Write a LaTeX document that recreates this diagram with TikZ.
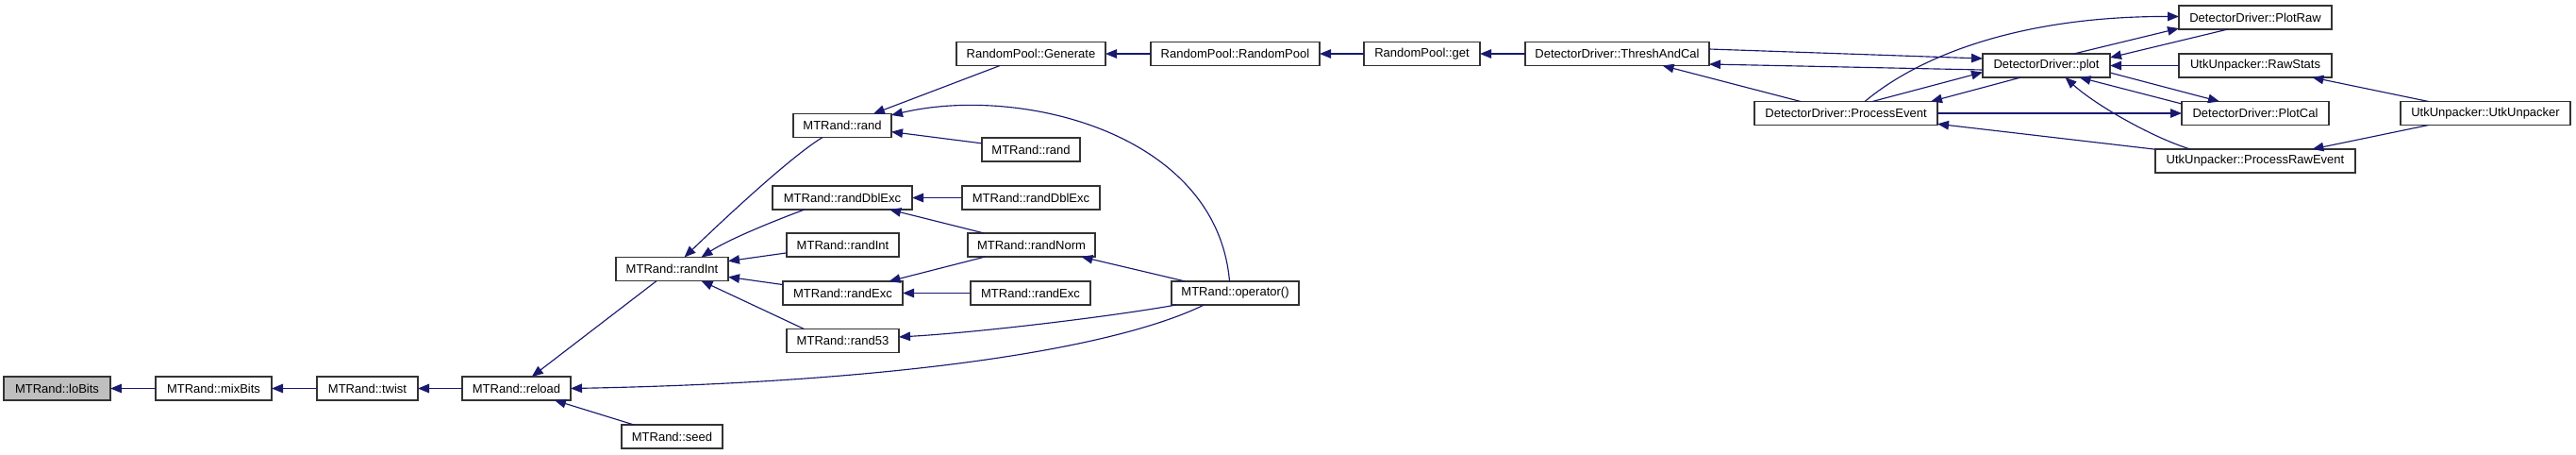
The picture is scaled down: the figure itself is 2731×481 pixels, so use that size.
\documentclass[tikz,border=0pt]{standalone}
\usepackage{fontspec}
\setmainfont{Liberation Sans}
\usetikzlibrary{arrows.meta,calc}
\definecolor{cgblue}{HTML}{191970}
\definecolor{cggray}{HTML}{BFBFBF}
\tikzset{
  cgnode/.style={draw=black!80,line width=0.8pt,fill=white,minimum height=0.5cm,inner sep=0pt,outer sep=0pt,font=\fontsize{7.4}{8.5}\selectfont},
  cgedge/.style={draw=cgblue,line width=0.65pt,-{Triangle[length=0.24cm,width=0.19cm]}}
}
\newcommand{\CGn}[6][]{\node[cgnode,#1,minimum width={(#4-#3)*0.02cm}] (#2) at ({(#3+#4)/2},#5) {#6};}
\newcommand{\CGe}[2]{\draw[cgedge] (#1) -- (#2);}

\begin{document}
\begin{tikzpicture}[x=0.02cm,y=-0.02cm]
  \useasboundingbox (0,0) rectangle (2731,481);
  \CGn[fill=cggray]{loBits}{4}{117}{411.5}{MTRand::loBits}
  \CGn{mixBits}{165}{288}{411.5}{MTRand::mixBits}
  \CGn{twist}{336}{443}{411.5}{MTRand::twist}
  \CGn{reload}{490}{605}{411.5}{MTRand::reload}
  \CGn{seed}{659}{766}{462.5}{MTRand::seed}
  \CGn{randInt}{653}{772}{285}{MTRand::randInt}
  \CGn{rand}{841}{945}{133}{MTRand::rand}
  \CGn{randDblExc}{819}{967}{209.5}{MTRand::randDblExc}
  \CGn{randIntB}{834}{953}{259.5}{MTRand::randInt}
  \CGn{randExc}{830}{957}{310.5}{MTRand::randExc}
  \CGn{rand53}{834}{953}{361}{MTRand::rand53}
  \CGn{randB}{1041}{1145}{158.5}{MTRand::rand}
  \CGn{randDblExcB}{1020}{1166}{209.5}{MTRand::randDblExc}
  \CGn{randNorm}{1026}{1161}{259.5}{MTRand::randNorm}
  \CGn{randExcB}{1029}{1156}{310.5}{MTRand::randExc}
  \CGn{operator}{1242}{1377}{310.5}{MTRand::operator()}
  \CGn{Generate}{1014}{1172}{57}{RandomPool::Generate}
  \CGn{RandomPool}{1220}{1399}{57}{RandomPool::RandomPool}
  \CGn{get}{1446}{1569}{57}{RandomPool::get}
  \CGn{ThreshAndCal}{1617}{1812}{57}{DetectorDriver::ThreshAndCal}
  \CGn{ProcessEvent}{1860}{2054}{120}{DetectorDriver::ProcessEvent}
  \CGn{plot}{2102}{2237}{69.5}{DetectorDriver::plot}
  \CGn{PlotRaw}{2310}{2472}{18.5}{DetectorDriver::PlotRaw}
  \CGn{RawStats}{2310}{2472}{69.5}{UtkUnpacker::RawStats}
  \CGn{PlotCal}{2313}{2469}{120}{DetectorDriver::PlotCal}
  \CGn{ProcessRawEvent}{2285}{2497}{170.5}{UtkUnpacker::ProcessRawEvent}
  \CGn{UtkUnpacker}{2545}{2725}{120}{UtkUnpacker::UtkUnpacker}

  \CGe{mixBits}{loBits}\CGe{twist}{mixBits}\CGe{reload}{twist}
  \CGe{randInt}{reload}\CGe{seed}{reload}
  \draw[cgedge] ($(operator.south)+(-33,0)$) .. controls (1180,370) and (950,405) .. (reload.east);
  \draw[cgedge] ($(rand.south)+(-21,0)$) .. controls (840,165) and (775,225) .. ($(randInt.north)+(13,0)$);
  \draw[cgedge] ($(randDblExc.south)+(-40,0)$) .. controls (815,236) and (770,255) .. ($(randInt.north)+(31,0)$);
  \CGe{randIntB}{randInt}\CGe{randExc}{randInt}
  \draw[cgedge] ($(rand53.north)+(-41,0)$) -- ($(randInt.south)+(31,0)$);
  \CGe{Generate}{rand}\CGe{randB}{rand}
  \draw[cgedge] ($(operator.north)+(-6,0)$) .. controls (1290,140) and (1080,90) .. ($(rand.east)+(0,-11)$);
  \CGe{randDblExcB}{randDblExc}\CGe{randNorm}{randDblExc}
  \CGe{randNorm}{randExc}\CGe{randExcB}{randExc}
  \CGe{operator}{randNorm}
  \draw[cgedge] ($(operator.south west)+(5,0)$) .. controls (1180,335) and (1040,352) .. ($(rand53.east)+(0,-4)$);
  \CGe{RandomPool}{Generate}\CGe{get}{RandomPool}\CGe{ThreshAndCal}{get}
  \draw[cgedge] ($(plot.west)+(0,4.5)$) -- ($(ThreshAndCal.east)+(0,11)$);
  \draw[cgedge] ($(ThreshAndCal.east)+(0,-5)$) -- ($(plot.west)+(0,-7.5)$);
  \CGe{ProcessEvent}{ThreshAndCal}
  \draw[cgedge] ($(ProcessEvent.north)+(28,0)$) -- ($(plot.west)+(0,7)$);
  \draw[cgedge] ($(plot.south)+(-27,0)$) -- ($(ProcessEvent.north east)+(-7,0)$);
  \draw[cgedge] ($(ProcessEvent.north)+(20,0)$) .. controls (2040,55) and (2150,17) .. ($(PlotRaw.west)+(0,-1)$);
  \draw[cgedge] ($(plot.north)+(29,0)$) -- ($(PlotRaw.west)+(0,11.5)$);
  \draw[cgedge] ($(PlotRaw.south)+(-29,0)$) -- ($(plot.east)+(0,-8.5)$);
  \CGe{RawStats}{plot}
  \draw[cgedge] ($(plot.east)+(0,7.5)$) -- ($(PlotCal.north)+(-38,0)$);
  \draw[cgedge] ($(PlotCal.west)+(0,-10)$) -- ($(plot.south)+(35,0)$);
  \CGe{ProcessEvent}{PlotCal}\CGe{ProcessRawEvent}{ProcessEvent}
  \draw[cgedge] ($(ProcessRawEvent.north)+(-69,0)$) .. controls (2280,145) and (2220,110) .. ($(plot.south)+(20,0)$);
  \CGe{UtkUnpacker}{RawStats}\CGe{UtkUnpacker}{ProcessRawEvent}
\end{tikzpicture}
\end{document}
